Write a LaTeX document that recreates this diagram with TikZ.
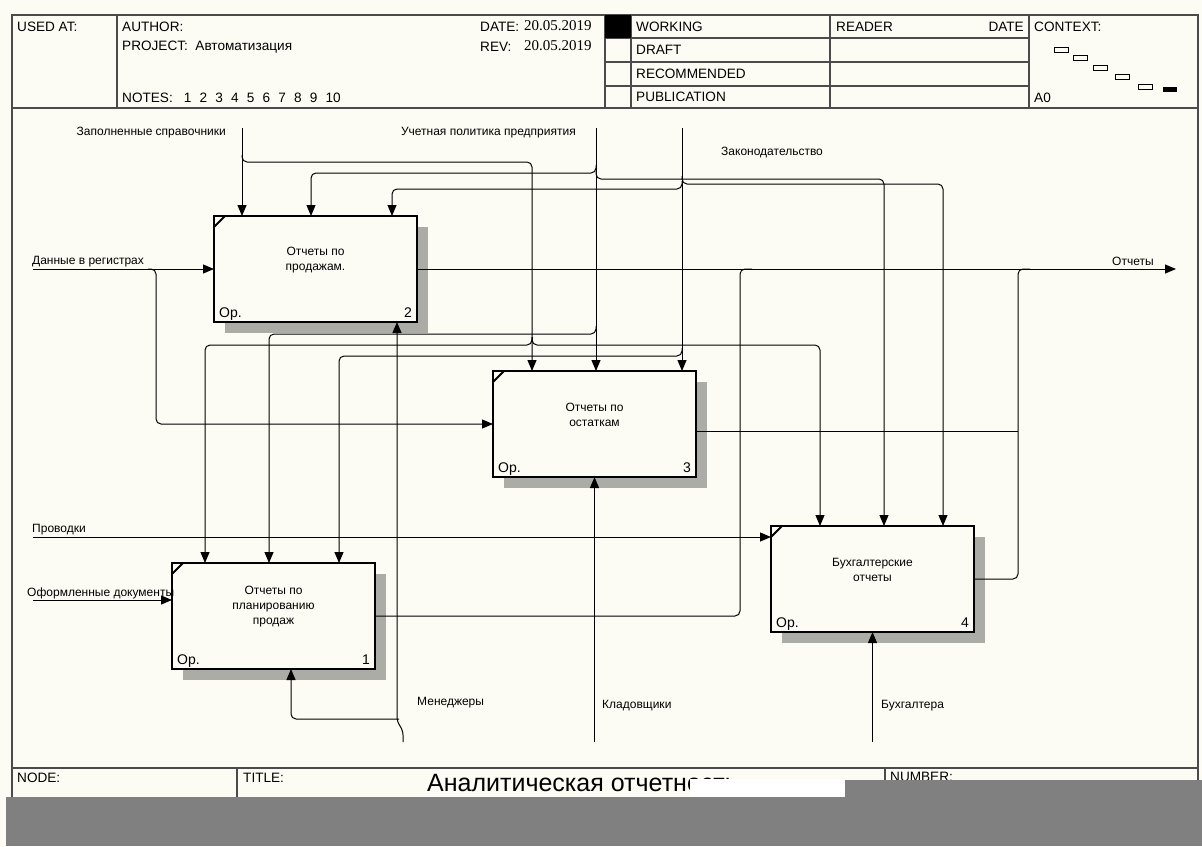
\documentclass[tikz,border=0pt]{standalone}
\usepackage{fontspec}
\setmainfont{Liberation Sans}
\newfontfamily\datefont{Liberation Serif}
\usetikzlibrary{arrows.meta}

\definecolor{paper}{RGB}{253,252,244}
\definecolor{framegray}{RGB}{75,75,75}
\definecolor{shadowgray}{RGB}{172,172,166}
\definecolor{bandgray}{RGB}{128,128,128}

% hatched drop shadow on the right and bottom of an activity box
\newcommand\fnshadow[1]{%
  \fill[shadowgray] ([xshift=1pt,yshift=-11pt]#1.north east) rectangle ([xshift=11pt,yshift=-11pt]#1.south east);
  \fill[shadowgray] ([xshift=11pt,yshift=-1pt]#1.south west) rectangle ([xshift=11pt,yshift=-11pt]#1.south east);
  \draw[line width=2pt] ([yshift=-11pt]#1.north west) -- ([xshift=11pt]#1.north west);}

\newcommand\notegap{\hspace{8.2pt}}

\begin{document}
\begin{tikzpicture}[x=1pt,y=-1pt,
  fn/.style={draw=black, line width=2pt, fill=paper, minimum width=203pt, minimum height=106pt,
             inner sep=0pt, outer sep=0pt, anchor=north west},
  fntext/.style={align=center, font=\fontsize{12}{15}\selectfont, inner sep=0pt},
  corner/.style={font=\fontsize{14}{15}\selectfont, inner sep=0pt},
  lbl/.style={font=\fontsize{12}{13}\selectfont, inner sep=0pt},
  hdr/.style={font=\fontsize{13.6}{15}\selectfont, inner sep=0pt, anchor=west},
  datev/.style={hdr, font=\datefont\fontsize{15}{15}\selectfont},
  frame/.style={draw=framegray, line width=1.3pt},
  conn/.style={line width=1pt, black, rounded corners=5pt},
  arr/.style={conn, -{Triangle[length=11pt,width=9pt]}}]

\useasboundingbox (0,0) rectangle (1202,846);
\fill[paper] (0,0) rectangle (1202,846);

% ---------- sheet frame and header ----------
\draw[frame] (12,15) rectangle (1198,800);
\draw[frame] (12,108) -- (1198,108);
\foreach \xx in {117,605,631,830,1029} \draw[frame] (\xx,15) -- (\xx,108);
\foreach \yy in {38,62,86} \draw[frame] (605,\yy) -- (1029,\yy);
\fill[black] (605,15) rectangle (631,38);

\node[hdr] (usedat) at (17,27) {USED AT:};
\node[hdr] (author) at (122,27) {AUTHOR:};
\node[hdr] (project) at (122,47) {PROJECT:~~Автоматизация};
\node[hdr] (notes) at (122,98) {NOTES:\hspace{11pt}1\notegap 2\notegap 3\notegap 4\notegap 5\notegap 6\notegap 7\notegap 8\notegap 9\notegap 10};
\node[hdr] (datek) at (480,27) {DATE:};
\node[datev] (datevl) at (524,26) {20.05.2019};
\node[hdr] (revk) at (480,47) {REV:};
\node[datev] (revvl) at (524,46) {20.05.2019};
\node[hdr] (working) at (636,27) {WORKING};
\node[hdr] (draft) at (636,50) {DRAFT};
\node[hdr] (recomm) at (636,74) {RECOMMENDED};
\node[hdr] (public) at (636,97) {PUBLICATION};
\node[hdr] (reader) at (836,27) {READER};
\node[hdr, anchor=east] (rdate) at (1024,27) {DATE};
\node[hdr] (context) at (1034,27) {CONTEXT:};
\node[hdr] (anode) at (1034,98) {A0};

% context map
\foreach \cx/\cy in {1054/47,1073/55,1093/65,1115/74,1138/84}
  \draw[line width=0.9pt] (\cx,\cy) rectangle ++(14,5);
\fill[black] (1163,87) rectangle (1177,92);

% ---------- activity boxes ----------
\node[fn] (b2) at (214,216) {};
\node[fn] (b3) at (493,371) {};
\node[fn] (b4) at (771,526) {};
\node[fn] (b1) at (172,563) {};

\fnshadow{b2}
\fnshadow{b3}
\fnshadow{b4}
\fnshadow{b1}

\node[fntext] (b2t) at ([yshift=-44pt]b2.north) {Отчеты по\\продажам.};
\node[fntext] (b3t) at ([yshift=-44pt]b3.north) {Отчеты по\\остаткам};
\node[fntext] (b4t) at ([yshift=-44pt]b4.north) {Бухгалтерские\\отчеты};
\node[fntext] (b1t) at ([yshift=-44pt]b1.north) {Отчеты по\\планированию\\продаж};

\foreach \b/\n in {b1/1,b2/2,b3/3,b4/4}{
  \node[corner, anchor=base west] (\b op) at ([xshift=5pt,yshift=5pt]\b.south west) {Ор.};
  \node[corner, anchor=base east] (\b no) at ([xshift=-5pt,yshift=5pt]\b.south east) {\n};
}

% arrow attachment points on the boxes
\path (b2.north west) ++(28,0) coordinate (b2c1) ++(69,0) coordinate (b2c2) ++(81,0) coordinate (b2c3);
\path (b3.north west) ++(39,0) coordinate (b3c1) ++(64,0) coordinate (b3c2) ++(86,0) coordinate (b3c3);
\path (b4.north west) ++(49,0) coordinate (b4c1) ++(64,0) coordinate (b4c2) ++(59,0) coordinate (b4c3);
\path (b1.north west) ++(33,0) coordinate (b1c1) ++(64,0) coordinate (b1c2) ++(70,0) coordinate (b1c3);
\path (b4.north west) ++(0,11) coordinate (b4i);
\path (b1.north west) ++(0,37) coordinate (b1i);
\path (b3.north east) ++(0,60) coordinate (b3o);
\path (b2.south west) ++(183,0) coordinate (b2m);
\path (b1.south west) ++(119,0) coordinate (b1m);

% free ends of the boundary arrows
\coordinate (zsTop) at (242,128);
\coordinate (upTop) at (596,128);
\coordinate (zkTop) at (682,128);
\coordinate (drL) at (33,269);
\coordinate (prL) at (33,537);
\coordinate (odL) at (33,600);
\coordinate (outR) at (1176,269);
\coordinate (mnB) at (403,742);
\coordinate (kdB) at (594.5,742);
\coordinate (bhB) at (872.5,742);

% ---------- controls ----------
\draw[arr] (zsTop) -- (b2c1);
\draw[arr] (242,155) -- (242,162) -| (b3c1);
\draw[arr] (532,337) -- (532,345) -| (b1c1);
\draw[arr] (532,337) -- (532,345) -| (b4c1);

\draw[arr] (upTop) -- (b3c2);
\draw[arr] (596,165) -- (596,173) -| (b2c2);
\draw[arr] (596,171) -- (596,179) -| (b4c2);
\draw[arr] (596,326) -- (596,334) -| (b1c2);

\draw[arr] (zkTop) -- (b3c3);
\draw[arr] (682,176) -- (682,184) -| (b4c3);
\draw[arr] (682,181) -- (682,189) -| (b2c3);
\draw[arr] (682,348) -- (682,356) -| (b1c3);

% ---------- inputs ----------
\draw[arr] (drL) -- (b2.west);
\draw[arr] (148,269) -- (156,269) |- (b3.west);
\draw[arr] (prL) -- (b4i);
\draw[arr] (odL) -- (b1i);

% ---------- outputs ----------
\draw[arr] (b2.east) -- (outR);
\draw[conn] (b3o) -- (1018,431);
\draw[conn] (b4.east) -| (1018,269) -- (1030,269);
\draw[conn] (b1.east) -| (740,269) -- (752,269);

% ---------- mechanisms ----------
\draw[arr] (mnB) -- (403,730) -- (397,722) -- (b2m);
\draw[arr] (399,719) -| (b1m);
\draw[arr] (kdB) -- (b3.south);
\draw[arr] (bhB) -- (b4.south);

% ---------- arrow labels ----------
\node[lbl, anchor=east] (lzs) at (226,133) {Заполненные справочники};
\node[lbl, anchor=east] (lup) at (576,133) {Учетная политика предприятия};
\node[lbl, anchor=west] (lzk) at (721,153) {Законодательство};
\node[lbl, anchor=west] (ldr) at (32,262) {Данные в регистрах};
\node[lbl, anchor=west] (lpr) at (32,530) {Проводки};
\node[lbl, anchor=west] (lod) at (27,593) {Оформленные документы};
\node[lbl, anchor=west] (lot) at (1112,261) {Отчеты};
\node[lbl, anchor=west] (lmn) at (417,703) {Менеджеры};
\node[lbl, anchor=west] (lkd) at (602,706) {Кладовщики};
\node[lbl, anchor=west] (lbh) at (881,706) {Бухгалтера};

% ---------- footer ----------
\draw[frame] (12,768) -- (1198,768);
\draw[frame] (237,768) -- (237,800);
\draw[frame] (885,768) -- (885,800);
\node[hdr] (nodek) at (17,778) {NODE:};
\node[hdr] (titlek) at (243,778) {TITLE:};
\node[hdr] (numberk) at (890,777) {NUMBER:};
\node[inner sep=0pt, anchor=base west, font=\fontsize{25}{28}\selectfont] (title) at (427,791) {Аналитическая отчетность};

% torn lower edge of the sheet
\fill[white] (690,779) rectangle (845,797);
\fill[bandgray] (845,780) rectangle (1202,797);
\fill[bandgray] (6,797) rectangle (1202,846);
\end{tikzpicture}
\end{document}
